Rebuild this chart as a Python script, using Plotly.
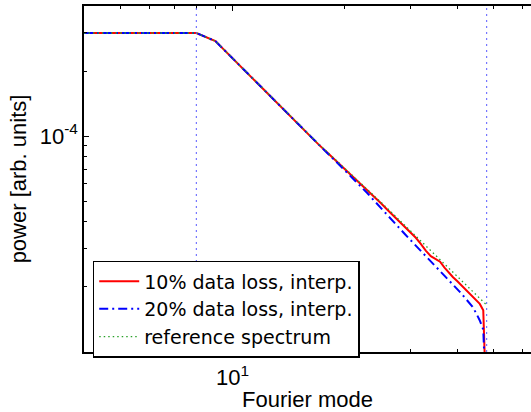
import math
import plotly.graph_objects as go

# Fourier mode numbers
modes = [4, 5, 6, 7, 8, 9, 10, 11, 12, 13, 14, 15, 16, 17, 18, 19, 20, 21, 22, 23, 24, 25,
         26, 27, 28, 29, 30, 31, 32, 33, 34, 35, 36, 37, 38, 39, 40, 41, 42, 43, 44, 45, 46, 47, 48]

# spectral power in units of 1e-5
POWER_UNIT = 1e-5
loss10_interp = [30.0, 30.0, 30.0, 30.0, 30.0, 27.5, 22.9, 19.5, 16.8, 14.6, 12.8, 11.3, 10.1, 9.15,
                 8.35, 7.65, 7.05, 6.52, 6.05, 5.62, 5.24, 4.88, 4.56, 4.27, 4.02, 3.79, 3.58, 3.38,
                 3.16, 2.94, 2.78, 2.71, 2.62, 2.46, 2.33, 2.22, 2.13, 2.04, 1.96, 1.88, 1.80, 1.74,
                 1.67, 1.56, 0.50]
loss20_interp = [30.0, 30.0, 30.0, 30.0, 30.0, 27.5, 22.9, 19.5, 16.8, 14.6, 12.8, 11.3, 10.1, 9.12,
                 8.30, 7.58, 6.94, 6.38, 5.88, 5.43, 5.01, 4.63, 4.30, 4.01, 3.74, 3.51, 3.30, 3.11,
                 2.94, 2.78, 2.64, 2.50, 2.38, 2.26, 2.15, 2.05, 1.96, 1.87, 1.78, 1.70, 1.62, 1.51,
                 1.40, 1.27, 0.50]
reference = [30.0, 30.0, 30.0, 30.0, 30.0, 27.5, 22.9, 19.5, 16.8, 14.6, 12.8, 11.4, 10.2, 9.20,
             8.40, 7.70, 7.10, 6.57, 6.10, 5.67, 5.29, 4.94, 4.63, 4.34, 4.08, 3.85, 3.64, 3.44,
             3.26, 3.10, 2.95, 2.81, 2.68, 2.56, 2.45, 2.34, 2.24, 2.15, 2.07, 1.99, 1.91, 1.84,
             1.77, 1.71, 1.65]

# fitting band limits
band_edges = [8, 48]

# axis limits and ticks
x_limits = [4, 63.1]
y_limits = [1e-5, 4e-4]
x_major = [10]
x_major_text = ["10<sup>1</sup>"]
x_minor = [5, 6, 7, 8, 9, 20, 30, 40, 50, 60]
y_major = [1e-4]
y_major_text = ["10<sup>-4</sup>"]
y_minor = [2e-5, 3e-5, 4e-5, 5e-5, 6e-5, 7e-5, 8e-5, 9e-5, 2e-4, 3e-4]

FONT = "Liberation Sans, Arial, Helvetica, sans-serif"
LEGEND_FONT = "DejaVu Sans, Liberation Sans, sans-serif"

fig = go.Figure()
fig.add_trace(go.Scatter(
    x=modes, y=[v * POWER_UNIT for v in loss10_interp], mode="lines",
    name="10% data loss, interp.", line=dict(color="rgb(255,0,0)", width=2)))
fig.add_trace(go.Scatter(
    x=modes, y=[v * POWER_UNIT for v in loss20_interp], mode="lines",
    name="20% data loss, interp.",
    line=dict(color="rgb(0,0,255)", width=2, dash="9px,4px,2px,4px")))
fig.add_trace(go.Scatter(
    x=modes, y=[v * POWER_UNIT for v in reference], mode="lines",
    name="reference spectrum",
    line=dict(color="rgb(40,160,40)", width=1.3, dash="1.5px,3px")))

for edge in band_edges:
    fig.add_vline(x=edge, line=dict(color="rgb(90,90,255)", width=1, dash="2px,4px"))

fig.update_xaxes(
    type="log", range=[math.log10(x_limits[0]), math.log10(x_limits[1])],
    tickmode="array", tickvals=x_major, ticktext=x_major_text,
    ticks="inside", ticklen=5, tickwidth=1, tickcolor="black",
    showline=True, linecolor="black", linewidth=1.5, mirror="ticks",
    showgrid=False, zeroline=False,
    minor=dict(tickmode="array", tickvals=x_minor, ticks="inside", ticklen=3,
               tickwidth=1, tickcolor="black", showgrid=False),
    tickfont=dict(family=FONT, size=22, color="black"),
    ticklabelstandoff=5,
    title=dict(text="Fourier mode", font=dict(family=FONT, size=22, color="black"), standoff=3),
)
fig.update_yaxes(
    type="log", range=[math.log10(y_limits[0]), math.log10(y_limits[1])],
    tickmode="array", tickvals=y_major, ticktext=y_major_text,
    ticks="inside", ticklen=5, tickwidth=1, tickcolor="black",
    showline=True, linecolor="black", linewidth=1.5, mirror=False,
    showgrid=False, zeroline=False,
    minor=dict(tickmode="array", tickvals=y_minor, ticks="inside", ticklen=3,
               tickwidth=1, tickcolor="black", showgrid=False),
    tickfont=dict(family=FONT, size=22, color="black"),
    title=dict(text="power [arb. units]", font=dict(family=FONT, size=22, color="black"), standoff=7),
)

fig.update_layout(
    width=531, height=412,
    margin=dict(l=84, r=0, t=6, b=60),
    paper_bgcolor="white", plot_bgcolor="white",
    font=dict(family=FONT, color="black"),
    legend=dict(x=0.0195, y=0.2636, xanchor="left", yanchor="top",
                bordercolor="black", borderwidth=1.5, bgcolor="white",
                font=dict(family=LEGEND_FONT, size=19, color="black"),
                itemwidth=40, tracegroupgap=0),
)

fig.write_html("out.html")
